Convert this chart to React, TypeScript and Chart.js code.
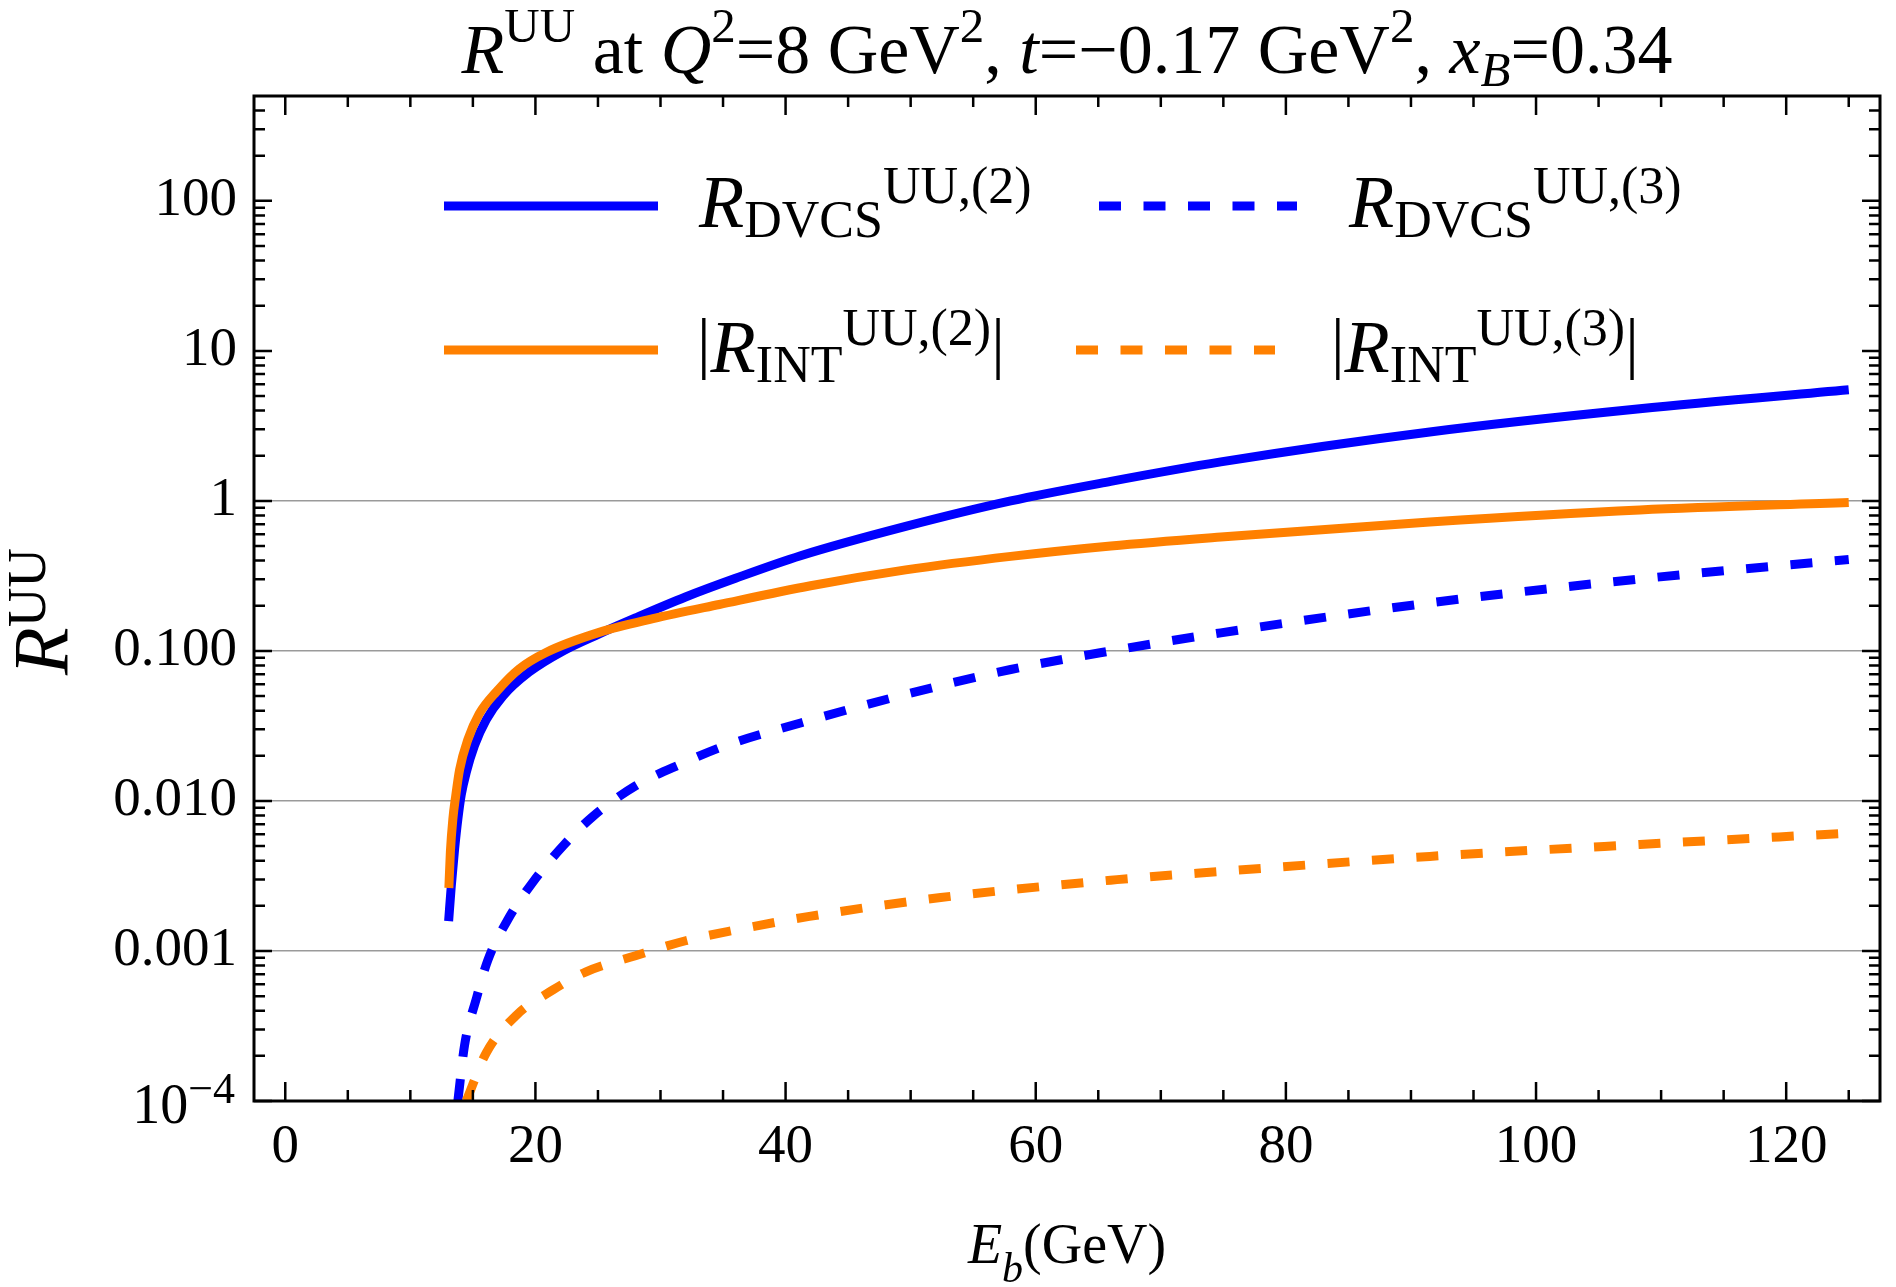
import React, { useEffect, useRef } from "react";
import { Chart, registerables } from "chart.js";

Chart.register(...registerables);

// beam energy E_b (GeV) and R^UU values
const eDvcs2 = [13.06, 13.27, 13.54, 13.8, 14.07, 14.47, 15.13, 16.06, 17.4, 19.5, 22.2, 25.1, 28, 32, 36, 41.2, 49.6, 58, 66, 74.8, 91.5, 108.3, 125];
const rDvcs2 = [0.00158, 0.00269, 0.00479, 0.00759, 0.011, 0.0155, 0.0234, 0.0347, 0.0501, 0.0724, 0.1, 0.13, 0.166, 0.229, 0.305, 0.431, 0.676, 1.0, 1.35, 1.82, 2.88, 4.11, 5.5];

const eDvcs3 = [13.8, 14.33, 15.27, 16.2, 17.8, 19.8, 22.2, 24.5, 28, 31.75, 35.2, 41.2, 49.6, 58, 66, 74.8, 91.5, 108.3, 125];
const rDvcs3 = [1e-4, 2.34e-4, 4.79e-4, 8.7e-4, 0.00162, 0.00288, 0.00501, 0.00776, 0.0126, 0.0178, 0.0234, 0.0331, 0.0513, 0.0752, 0.1, 0.132, 0.209, 0.302, 0.407];

const eInt2 = [13.08, 13.2, 13.4, 13.62, 13.94, 14.6, 15.5, 16.9, 18.7, 20.85, 25.1, 29.4, 34.7, 42, 49.6, 58, 66, 74.8, 91.5, 108.3, 125];
const rInt2 = [0.00263, 0.00457, 0.00759, 0.0107, 0.0162, 0.0257, 0.038, 0.0537, 0.0759, 0.0977, 0.133, 0.164, 0.204, 0.272, 0.347, 0.427, 0.501, 0.575, 0.724, 0.871, 0.977];

const eInt3 = [14.47, 16.06, 18.46, 21.4, 24, 28, 32, 36, 41.9, 52.4, 66.5, 74.8, 91.5, 108.3, 125];
const rInt3 = [1e-4, 2.09e-4, 3.72e-4, 5.5e-4, 7.24e-4, 9.3e-4, 0.00117, 0.00138, 0.0017, 0.00227, 0.00299, 0.00339, 0.00427, 0.00513, 0.0061];

const xTicks = [0, 20, 40, 60, 80, 100, 120];
const yTicks = [1e-4, 0.001, 0.01, 0.1, 1, 10, 100];
const yTickLabels = ["", "0.001", "0.010", "0.100", "1", "10", "100"];
const gridValues = [0.001, 0.01, 0.1, 1];

const BLUE = "#0000ff";
const ORANGE = "#ff8000";
const SERIF = '"Liberation Serif", "Times New Roman", serif';
const DASH = [22, 22.5];
const LINE_W = 9;

type Run = { t: string; size: number; italic?: boolean; dy?: number };

function font(r: Run) {
  return `${r.italic ? "italic " : ""}${r.size}px ${SERIF}`;
}

function runsWidth(ctx: CanvasRenderingContext2D, runs: Run[]) {
  let w = 0;
  for (const r of runs) {
    ctx.font = font(r);
    w += ctx.measureText(r.t).width;
  }
  return w;
}

function drawRuns(ctx: CanvasRenderingContext2D, x: number, y: number, runs: Run[]) {
  ctx.textBaseline = "alphabetic";
  ctx.textAlign = "left";
  ctx.fillStyle = "#000";
  let cx = x;
  for (const r of runs) {
    ctx.font = font(r);
    ctx.fillText(r.t, cx, y + (r.dy || 0));
    cx += ctx.measureText(r.t).width;
  }
}

const titleRuns: Run[] = [
  { t: "R", size: 70, italic: true },
  { t: "UU", size: 49, dy: -31 },
  { t: " at ", size: 70 },
  { t: "Q", size: 70, italic: true },
  { t: "2", size: 49, dy: -31 },
  { t: "=8 GeV", size: 70 },
  { t: "2", size: 49, dy: -31 },
  { t: ", ", size: 70 },
  { t: "t", size: 70, italic: true },
  { t: "=\u22120.17 GeV", size: 70 },
  { t: "2", size: 49, dy: -31 },
  { t: ", ", size: 70 },
  { t: "x", size: 70, italic: true },
  { t: "B", size: 49, italic: true, dy: 13 },
  { t: "=0.34", size: 70 },
];

const legendItems = [
  {
    color: BLUE, dash: [] as number[], x0: 444, x1: 658, y: 206, tx: 699, ty: 227,
    runs: [
      { t: "R", size: 74, italic: true },
      { t: "DVCS", size: 52, dy: 10 },
      { t: "UU,(2)", size: 52, dy: -24 },
    ] as Run[],
  },
  {
    color: BLUE, dash: DASH, x0: 1099, x1: 1297, y: 206, tx: 1349, ty: 227,
    runs: [
      { t: "R", size: 74, italic: true },
      { t: "DVCS", size: 52, dy: 10 },
      { t: "UU,(3)", size: 52, dy: -24 },
    ] as Run[],
  },
  {
    color: ORANGE, dash: [] as number[], x0: 444, x1: 658, y: 350, tx: 697, ty: 372,
    runs: [
      { t: "|", size: 68, dy: -6 },
      { t: "R", size: 74, italic: true },
      { t: "INT", size: 52, dy: 10 },
      { t: "UU,(2)", size: 52, dy: -27 },
      { t: "|", size: 68, dy: -6 },
    ] as Run[],
  },
  {
    color: ORANGE, dash: DASH, x0: 1076, x1: 1275, y: 350, tx: 1331, ty: 372,
    runs: [
      { t: "|", size: 68, dy: -6 },
      { t: "R", size: 74, italic: true },
      { t: "INT", size: 52, dy: 10 },
      { t: "UU,(3)", size: 52, dy: -27 },
      { t: "|", size: 68, dy: -6 },
    ] as Run[],
  },
];

const framePlugin = {
  id: "frame",
  afterDatasetsDraw(chart: any) {
    const { ctx, chartArea: a, scales } = chart;
    const xs = scales.x;
    const ys = scales.y;
    ctx.save();
    ctx.strokeStyle = "#000";
    ctx.lineWidth = 2.5;
    ctx.beginPath();
    for (let v = 0; v <= 125; v += 5) {
      const px = xs.getPixelForValue(v);
      const len = v % 20 === 0 ? 19 : 11;
      ctx.moveTo(px, a.bottom);
      ctx.lineTo(px, a.bottom - len);
      ctx.moveTo(px, a.top);
      ctx.lineTo(px, a.top + len);
    }
    for (let e = -4; e <= 2; e++) {
      for (let n = 1; n <= 9; n++) {
        const v = n * Math.pow(10, e);
        if (v > 499) continue;
        const py = ys.getPixelForValue(v);
        const len = n === 1 ? 18 : 11;
        ctx.moveTo(a.left, py);
        ctx.lineTo(a.left + len, py);
        ctx.moveTo(a.right, py);
        ctx.lineTo(a.right - len, py);
      }
    }
    ctx.stroke();
    ctx.lineWidth = 3;
    ctx.strokeRect(a.left, a.top, a.right - a.left, a.bottom - a.top);

    // legend
    for (const it of legendItems) {
      ctx.strokeStyle = it.color;
      ctx.lineWidth = LINE_W;
      ctx.lineCap = "butt";
      ctx.setLineDash(it.dash);
      ctx.beginPath();
      ctx.moveTo(it.x0, it.y);
      ctx.lineTo(it.x1, it.y);
      ctx.stroke();
      ctx.setLineDash([]);
      drawRuns(ctx, it.tx, it.ty, it.runs);
    }
    ctx.restore();
  },
  afterDraw(chart: any) {
    const { ctx, chartArea: a, scales } = chart;
    ctx.save();
    // title
    const cx = (a.left + a.right) / 2;
    const tw = runsWidth(ctx, titleRuns);
    drawRuns(ctx, cx - tw / 2, 73, titleRuns);

    // 10^-4 tick label
    const lowRuns: Run[] = [
      { t: "10", size: 56 },
      { t: "\u22124", size: 44, dy: -20 },
    ];
    const lw = runsWidth(ctx, lowRuns);
    const py = scales.y.getPixelForValue(1e-4);
    drawRuns(ctx, 235 - lw, py + 22, lowRuns);

    // x axis title
    const xRuns: Run[] = [
      { t: "E", size: 56, italic: true },
      { t: "b", size: 42, italic: true, dy: 19 },
      { t: "(GeV)", size: 56 },
    ];
    const xw = runsWidth(ctx, xRuns);
    drawRuns(ctx, cx - xw / 2, 1263, xRuns);

    // y axis title
    ctx.translate(67, 675);
    ctx.rotate(-Math.PI / 2);
    drawRuns(ctx, 0, 0, [
      { t: "R", size: 78, italic: true },
      { t: "UU", size: 55, dy: -22 },
    ]);
    ctx.restore();
  },
};

function pts(xs: number[], ys: number[]) {
  return xs.map((x, i) => ({ x, y: ys[i] }));
}

const App: React.FC = () => {
  const chartRef = useRef<HTMLCanvasElement | null>(null);
  const chartInstance = useRef<Chart | null>(null);

  useEffect(() => {
    if (chartInstance.current) {
      chartInstance.current.destroy();
    }
    const ctx = chartRef.current?.getContext("2d");
    if (ctx) {
      const line = (label: string, data: any[], color: string, dash: number[]) => ({
        label,
        data,
        borderColor: color,
        backgroundColor: color,
        borderWidth: LINE_W,
        borderDash: dash,
        pointRadius: 0,
        fill: false,
        cubicInterpolationMode: "monotone" as const,
        clip: 0,
      });
      chartInstance.current = new Chart(ctx, {
        type: "line",
        data: {
          datasets: [
            line("|R_INT^UU,(2)|", pts(eInt2, rInt2), ORANGE, []),
            line("R_DVCS^UU,(2)", pts(eDvcs2, rDvcs2), BLUE, []),
            line("|R_INT^UU,(3)|", pts(eInt3, rInt3), ORANGE, DASH),
            line("R_DVCS^UU,(3)", pts(eDvcs3, rDvcs3), BLUE, DASH),
          ],
        },
        options: {
          responsive: false,
          animation: false,
          layout: { padding: { top: 96, right: 16, left: 0, bottom: 0 } },
          plugins: {
            legend: { display: false },
            title: { display: false },
            tooltip: { enabled: false },
          },
          scales: {
            x: {
              type: "linear",
              min: -2.5,
              max: 127.5,
              afterBuildTicks: (s: any) => {
                s.ticks = xTicks.map((v) => ({ value: v }));
              },
              afterFit: (s: any) => {
                s.height = 186;
              },
              grid: { display: false, drawTicks: false },
              border: { display: false },
              ticks: {
                autoSkip: false,
                maxRotation: 0,
                padding: 14,
                color: "#000",
                font: { family: SERIF, size: 55 },
              },
            },
            y: {
              type: "logarithmic",
              min: 1e-4,
              max: 500,
              afterBuildTicks: (s: any) => {
                s.ticks = yTicks.map((v) => ({ value: v }));
              },
              afterFit: (s: any) => {
                s.width = 254;
              },
              grid: {
                drawTicks: false,
                lineWidth: 1.5,
                color: (c: any) =>
                  c.tick && gridValues.includes(c.tick.value) ? "#9a9a9a" : "rgba(0,0,0,0)",
              },
              border: { display: false },
              ticks: {
                autoSkip: false,
                padding: 17,
                color: "#000",
                font: { family: SERIF, size: 55 },
                callback: (v: any) => {
                  const i = yTicks.indexOf(Number(v));
                  return i >= 0 ? yTickLabels[i] : "";
                },
              },
            },
          },
        },
        plugins: [framePlugin],
      });
    }
    return () => {
      if (chartInstance.current) {
        chartInstance.current.destroy();
        chartInstance.current = null;
      }
    };
  }, []);

  return (
    <div style={{ position: "fixed", left: 0, top: 0, width: 1896, height: 1287, background: "#fff" }}>
      <canvas ref={chartRef} width={1896} height={1287} style={{ display: "block" }} />
    </div>
  );
};

export default App;
